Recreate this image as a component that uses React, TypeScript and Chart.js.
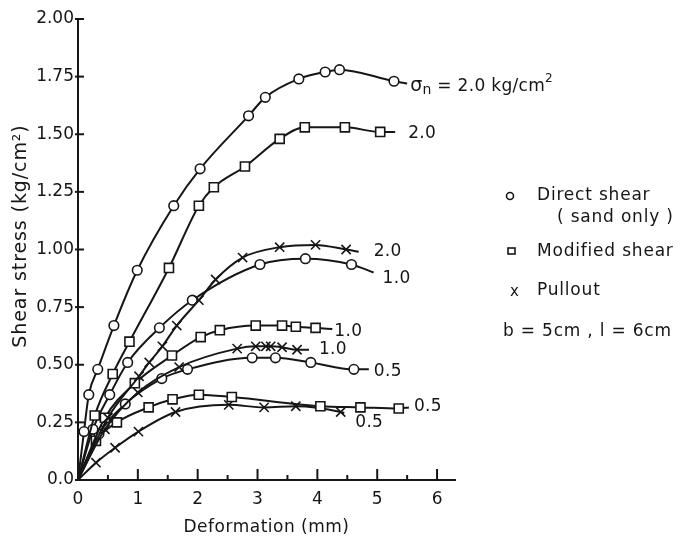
import React, { useEffect, useRef } from 'react';
import { Chart, registerables } from 'chart.js';

Chart.register(...registerables);

// ---- data (deformation in mm, shear stress in kg/cm2) ----
// Direct shear (sand only) - circles
const directX20 = [0, 0.10, 0.18, 0.33, 0.60, 0.99, 1.60, 2.04, 2.85, 3.13, 3.69, 4.13, 4.37, 5.28, 5.50];
const directY20 = [0, 0.21, 0.37, 0.48, 0.67, 0.91, 1.19, 1.35, 1.58, 1.66, 1.74, 1.77, 1.78, 1.73, 1.72];
const directX10 = [0, 0.25, 0.53, 0.83, 1.36, 1.91, 3.04, 3.80, 4.57, 4.94];
const directY10 = [0, 0.22, 0.37, 0.51, 0.66, 0.78, 0.935, 0.96, 0.935, 0.90];
const directX05 = [0, 0.35, 0.79, 1.40, 1.83, 2.91, 3.30, 3.89, 4.61, 4.86];
const directY05 = [0, 0.20, 0.33, 0.44, 0.48, 0.53, 0.53, 0.51, 0.48, 0.48];

// Modified shear - squares
const modifiedX20 = [0, 0.28, 0.58, 0.86, 1.52, 2.02, 2.27, 2.79, 3.37, 3.79, 4.46, 5.05, 5.30];
const modifiedY20 = [0, 0.28, 0.46, 0.60, 0.92, 1.19, 1.27, 1.36, 1.48, 1.53, 1.53, 1.51, 1.51];
const modifiedX10 = [0, 0.45, 0.95, 1.57, 2.05, 2.37, 2.97, 3.41, 3.64, 3.97, 4.25];
const modifiedY10 = [0, 0.27, 0.42, 0.54, 0.62, 0.65, 0.67, 0.67, 0.665, 0.66, 0.655];
const modifiedX05 = [0, 0.30, 0.65, 1.18, 1.58, 2.02, 2.57, 4.05, 4.72, 5.36, 5.53];
const modifiedY05 = [0, 0.17, 0.25, 0.315, 0.35, 0.37, 0.36, 0.32, 0.315, 0.31, 0.315];

// Pullout - crosses
const pulloutX20 = [0, 0.50, 1.02, 1.19, 1.41, 1.65, 2.02, 2.30, 2.75, 3.37, 3.97, 4.48, 4.69];
const pulloutY20 = [0, 0.27, 0.45, 0.51, 0.58, 0.67, 0.78, 0.87, 0.965, 1.01, 1.02, 1.00, 0.99];
const pulloutX10 = [0, 0.45, 1.0, 1.69, 2.66, 2.97, 3.14, 3.22, 3.41, 3.66, 3.86];
const pulloutY10 = [0, 0.22, 0.38, 0.49, 0.57, 0.58, 0.58, 0.58, 0.576, 0.565, 0.565];
const pulloutX05 = [0, 0.30, 0.62, 1.01, 1.63, 2.52, 3.11, 3.64, 4.39, 4.45];
const pulloutY05 = [0, 0.075, 0.14, 0.21, 0.295, 0.326, 0.315, 0.32, 0.295, 0.29];

const curveLabels = ['σn = 2.0 kg/cm²', '2.0', '2.0', '1.0', '1.0', '1.0', '0.5', '0.5', '0.5'];

const yTickValues = [0, 0.25, 0.5, 0.75, 1.0, 1.25, 1.5, 1.75, 2.0];
const yTickLabels = ['0.0', '0.25', '0.50', '0.75', '1.00', '1.25', '1.50', '1.75', '2.00'];
const xTickValues = [0, 1, 2, 3, 4, 5, 6];
const xTickLabels = ['0', '1', '2', '3', '4', '5', '6'];
const xMinorTicks = [0.5, 1.5, 2.5, 3.5, 4.5, 5.5];

const legendItems = ['Direct shear', '( sand only )', 'Modified shear', 'Pullout', 'b = 5cm , l = 6cm'];
const xTitle = 'Deformation (mm)';
const yTitle = 'Shear stress (kg/cm²)';

// ---- styles ----
const FONT = '"DejaVu Sans", sans-serif';
const INK = '#161616';

type Series = { xs: number[]; ys: number[]; marker: 'circle' | 'rect' | 'crossRot' };
const seriesList: Series[] = [
  { xs: directX20, ys: directY20, marker: 'circle' },
  { xs: modifiedX20, ys: modifiedY20, marker: 'rect' },
  { xs: pulloutX20, ys: pulloutY20, marker: 'crossRot' },
  { xs: directX10, ys: directY10, marker: 'circle' },
  { xs: modifiedX10, ys: modifiedY10, marker: 'rect' },
  { xs: pulloutX10, ys: pulloutY10, marker: 'crossRot' },
  { xs: directX05, ys: directY05, marker: 'circle' },
  { xs: modifiedX05, ys: modifiedY05, marker: 'rect' },
  { xs: pulloutX05, ys: pulloutY05, marker: 'crossRot' },
];
const labelOffsets = [[3, 3], [13, 2], [15, 0], [9, 6], [2, 3], [10, 0], [5, 2], [5, -1], [11, 9]];
const markerRadius: Record<string, number> = { circle: 4.8, rect: 6.4, crossRot: 6.5 };

const decorPlugin = {
  id: 'decor',
  afterDraw(chart: any) {
    const ctx = chart.ctx as CanvasRenderingContext2D;
    const xs = chart.scales.x;
    const ys = chart.scales.y;
    const area = chart.chartArea;
    ctx.save();
    ctx.strokeStyle = INK;
    ctx.fillStyle = INK;
    ctx.lineWidth = 2;
    // y ticks crossing the axis
    yTickValues.forEach((v) => {
      const py = ys.getPixelForValue(v);
      ctx.beginPath();
      ctx.moveTo(area.left - 3, py);
      ctx.lineTo(area.left + 6, py);
      ctx.stroke();
    });
    // x ticks pointing up
    xTickValues.forEach((v) => {
      const px = xs.getPixelForValue(v);
      ctx.beginPath();
      ctx.moveTo(px, area.bottom + 1);
      ctx.lineTo(px, area.bottom - 11);
      ctx.stroke();
    });
    xMinorTicks.forEach((v) => {
      const px = xs.getPixelForValue(v);
      ctx.beginPath();
      ctx.moveTo(px, area.bottom);
      ctx.lineTo(px, area.bottom - 5);
      ctx.stroke();
    });

    // axis titles
    ctx.textBaseline = 'middle';
    ctx.textAlign = 'center';
    ctx.font = `17px ${FONT}`;
    (ctx as any).letterSpacing = '0.5px';
    ctx.fillText(xTitle, (area.left + area.right) / 2, 528);
    ctx.save();
    ctx.translate(21, 236);
    ctx.rotate(-Math.PI / 2);
    ctx.font = `19px ${FONT}`;
    (ctx as any).letterSpacing = '0.9px';
    ctx.fillText(yTitle, 0, 0);
    ctx.restore();

    // curve labels at the end of each curve
    ctx.textAlign = 'left';
    (ctx as any).letterSpacing = '0.3px';
    chart.data.datasets.forEach((ds: any, i: number) => {
      const last = ds.data[ds.data.length - 1];
      const px = xs.getPixelForValue(last.x) + labelOffsets[i][0];
      const py = ys.getPixelForValue(last.y) + labelOffsets[i][1];
      if (i === 0) {
        let cx = px;
        const parts: [string, number, number][] = [['σ', 19, 0], ['n', 14, 4], [' = 2.0 kg/cm', 17, 0], ['2', 12, -8]];
        parts.forEach(([t, s, dy]) => {
          ctx.font = `${s}px ${FONT}`;
          ctx.fillText(t, cx, py + dy);
          cx += ctx.measureText(t).width;
        });
      } else {
        ctx.font = `17px ${FONT}`;
        ctx.fillText(curveLabels[i], px, py);
      }
    });

    // legend (text block on the right)
    ctx.font = `17px ${FONT}`;
    (ctx as any).letterSpacing = '0.8px';
    ctx.fillText(legendItems[0], 537, 196);
    ctx.fillText(legendItems[1], 557, 218);
    ctx.fillText(legendItems[2], 537, 252);
    ctx.fillText(legendItems[3], 537, 291);
    ctx.fillText(legendItems[4], 503, 332);
    ctx.lineWidth = 1.6;
    ctx.beginPath();
    ctx.arc(510, 196, 3.5, 0, Math.PI * 2);
    ctx.stroke();
    ctx.strokeRect(508, 248, 7, 6);
    (ctx as any).letterSpacing = '0px';
    ctx.font = `15px ${FONT}`;
    ctx.fillText('x', 510, 292);
    ctx.restore();
  },
};

export default function App() {
  const ref = useRef<HTMLCanvasElement | null>(null);
  useEffect(() => {
    document.body.style.margin = '0';
    const canvas = ref.current;
    if (!canvas) return;
    const datasets = seriesList.map((s) => {
      const n = s.xs.length;
      return {
        data: s.xs.map((x, i) => ({ x, y: s.ys[i] })),
        borderColor: INK,
        borderWidth: 2,
        backgroundColor: '#ffffff',
        cubicInterpolationMode: 'monotone' as const,
        pointStyle: s.marker,
        pointRadius: (c: any) => (c.dataIndex === 0 || c.dataIndex === n - 1 ? 0 : markerRadius[s.marker]),
        pointBackgroundColor: '#ffffff',
        pointBorderColor: INK,
        pointBorderWidth: 1.6,
        fill: false,
      };
    });
    const chart = new Chart(canvas, {
      type: 'line',
      data: { datasets },
      plugins: [decorPlugin],
      options: {
        animation: false,
        responsive: true,
        maintainAspectRatio: false,
        layout: { padding: { left: 0, right: 233, top: 19, bottom: 0 } },
        plugins: { legend: { display: false }, tooltip: { enabled: false } },
        scales: {
          x: {
            type: 'linear',
            min: 0,
            max: 6.3,
            afterFit: (s: any) => { s.height = 58; },
            afterBuildTicks: (s: any) => { s.ticks = xTickValues.map((v) => ({ value: v })); },
            grid: { display: false, drawTicks: false },
            border: { display: true, color: INK, width: 2 },
            ticks: {
              padding: 9,
              color: INK,
              font: { family: 'DejaVu Sans', size: 17 },
              callback: (v: any) => xTickLabels[xTickValues.indexOf(Number(v))] ?? '',
            },
          },
          y: {
            type: 'linear',
            min: 0,
            max: 2,
            afterFit: (s: any) => { s.width = 78; },
            afterBuildTicks: (s: any) => { s.ticks = yTickValues.map((v) => ({ value: v })); },
            grid: { display: false, drawTicks: false },
            border: { display: true, color: INK, width: 2 },
            ticks: {
              padding: 4,
              color: INK,
              font: { family: 'DejaVu Sans', size: 17 },
              callback: (v: any) => yTickLabels[yTickValues.indexOf(Number(v))] ?? '',
            },
          },
        },
      },
    });
    return () => chart.destroy();
  }, []);
  return (
    <div style={{ position: 'fixed', left: 0, top: 0, width: 688, height: 538, background: '#fff' }}>
      <canvas ref={ref} />
    </div>
  );
}
